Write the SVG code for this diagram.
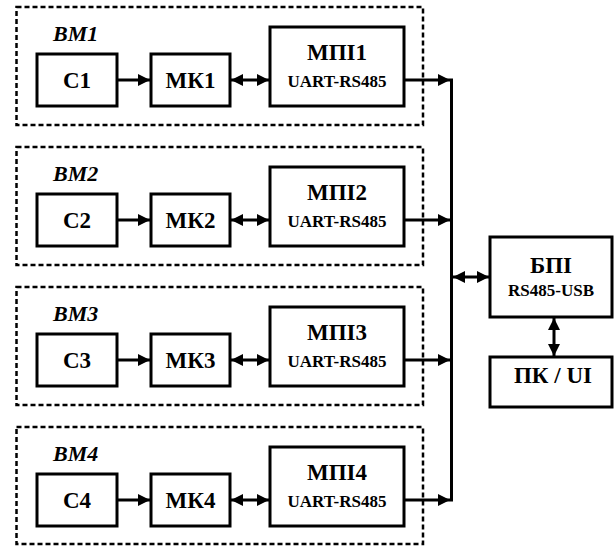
<svg xmlns="http://www.w3.org/2000/svg" width="616" height="546" viewBox="0 0 616 546">
<style>
.grp{fill:none;stroke:#000;stroke-width:2.5;stroke-dasharray:5 3}
.box{fill:#fff;stroke:#000;stroke-width:3}
.ln{fill:none;stroke:#000;stroke-width:3}
text{font-family:'Liberation Serif','DejaVu Serif',serif;font-weight:bold;fill:#000}
.t{text-anchor:middle}
.big{font-size:23px}
.sm{font-size:17px}
.lbl{font-style:italic;font-size:22px}
</style>
<defs>
<marker id="ah" viewBox="0 0 12 12" refX="12" refY="6" markerWidth="12" markerHeight="12" markerUnits="userSpaceOnUse" orient="auto-start-reverse">
<path d="M0,0 L12,6 L0,12 Z" fill="#000"/>
</marker>
</defs>
<g id="BM1">
<rect class="grp" x="16.5" y="7" width="406.5" height="118"/>
<text class="lbl" x="53" y="41">ВМ1</text>
</g>
<g id="C1"><rect class="box" x="37" y="54" width="80" height="52"/><text class="t big" x="77" y="88">С1</text></g>
<g id="MK1"><rect class="box" x="151" y="54" width="79" height="52"/><text class="t big" x="190.5" y="88">МК1</text></g>
<g id="MPI1"><rect class="box" x="270" y="27" width="134" height="79"/><text class="t big" x="337" y="60">МПІ1</text><text class="t sm" x="337" y="87">UART-RS485</text></g>
<g id="BM2">
<rect class="grp" x="16.5" y="147" width="406.5" height="118"/>
<text class="lbl" x="53" y="181">ВМ2</text>
</g>
<g id="C2"><rect class="box" x="37" y="194" width="80" height="52"/><text class="t big" x="77" y="228">С2</text></g>
<g id="MK2"><rect class="box" x="151" y="194" width="79" height="52"/><text class="t big" x="190.5" y="228">МК2</text></g>
<g id="MPI2"><rect class="box" x="270" y="167" width="134" height="79"/><text class="t big" x="337" y="200">МПІ2</text><text class="t sm" x="337" y="227">UART-RS485</text></g>
<g id="BM3">
<rect class="grp" x="16.5" y="287" width="406.5" height="118"/>
<text class="lbl" x="53" y="321">ВМ3</text>
</g>
<g id="C3"><rect class="box" x="37" y="334" width="80" height="52"/><text class="t big" x="77" y="368">С3</text></g>
<g id="MK3"><rect class="box" x="151" y="334" width="79" height="52"/><text class="t big" x="190.5" y="368">МК3</text></g>
<g id="MPI3"><rect class="box" x="270" y="307" width="134" height="79"/><text class="t big" x="337" y="340">МПІ3</text><text class="t sm" x="337" y="367">UART-RS485</text></g>
<g id="BM4">
<rect class="grp" x="16.5" y="427" width="406.5" height="117"/>
<text class="lbl" x="53" y="461">ВМ4</text>
</g>
<g id="C4"><rect class="box" x="37" y="474" width="80" height="52"/><text class="t big" x="77" y="508">С4</text></g>
<g id="MK4"><rect class="box" x="151" y="474" width="79" height="52"/><text class="t big" x="190.5" y="508">МК4</text></g>
<g id="MPI4"><rect class="box" x="270" y="447" width="134" height="79"/><text class="t big" x="337" y="480">МПІ4</text><text class="t sm" x="337" y="507">UART-RS485</text></g>
<g id="BPI"><rect class="box" x="490" y="237" width="122" height="80"/><text class="t big" x="551" y="273">БПІ</text><text class="t sm" x="551" y="296">RS485-USB</text></g>
<g id="PC"><rect class="box" x="490" y="357" width="122" height="50"/><text class="t big" x="553" y="383">ПК / UI</text></g>
<g id="connectors">
<line class="ln" x1="117" y1="80" x2="150" y2="80" marker-end="url(#ah)"/>
<line class="ln" x1="231" y1="80" x2="269" y2="80" marker-start="url(#ah)" marker-end="url(#ah)"/>
<line class="ln" x1="404" y1="80" x2="450" y2="80" marker-end="url(#ah)"/>
<line class="ln" x1="117" y1="220" x2="150" y2="220" marker-end="url(#ah)"/>
<line class="ln" x1="231" y1="220" x2="269" y2="220" marker-start="url(#ah)" marker-end="url(#ah)"/>
<line class="ln" x1="404" y1="220" x2="450" y2="220" marker-end="url(#ah)"/>
<line class="ln" x1="117" y1="360" x2="150" y2="360" marker-end="url(#ah)"/>
<line class="ln" x1="231" y1="360" x2="269" y2="360" marker-start="url(#ah)" marker-end="url(#ah)"/>
<line class="ln" x1="404" y1="360" x2="450" y2="360" marker-end="url(#ah)"/>
<line class="ln" x1="117" y1="500" x2="150" y2="500" marker-end="url(#ah)"/>
<line class="ln" x1="231" y1="500" x2="269" y2="500" marker-start="url(#ah)" marker-end="url(#ah)"/>
<line class="ln" x1="404" y1="500" x2="450" y2="500" marker-end="url(#ah)"/>
<line class="ln" x1="451.5" y1="78.5" x2="451.5" y2="501.5"/>
<line class="ln" x1="453" y1="277" x2="489" y2="277" marker-start="url(#ah)" marker-end="url(#ah)"/>
<line class="ln" x1="554" y1="318" x2="554" y2="356" marker-start="url(#ah)" marker-end="url(#ah)"/>
</g>
</svg>
